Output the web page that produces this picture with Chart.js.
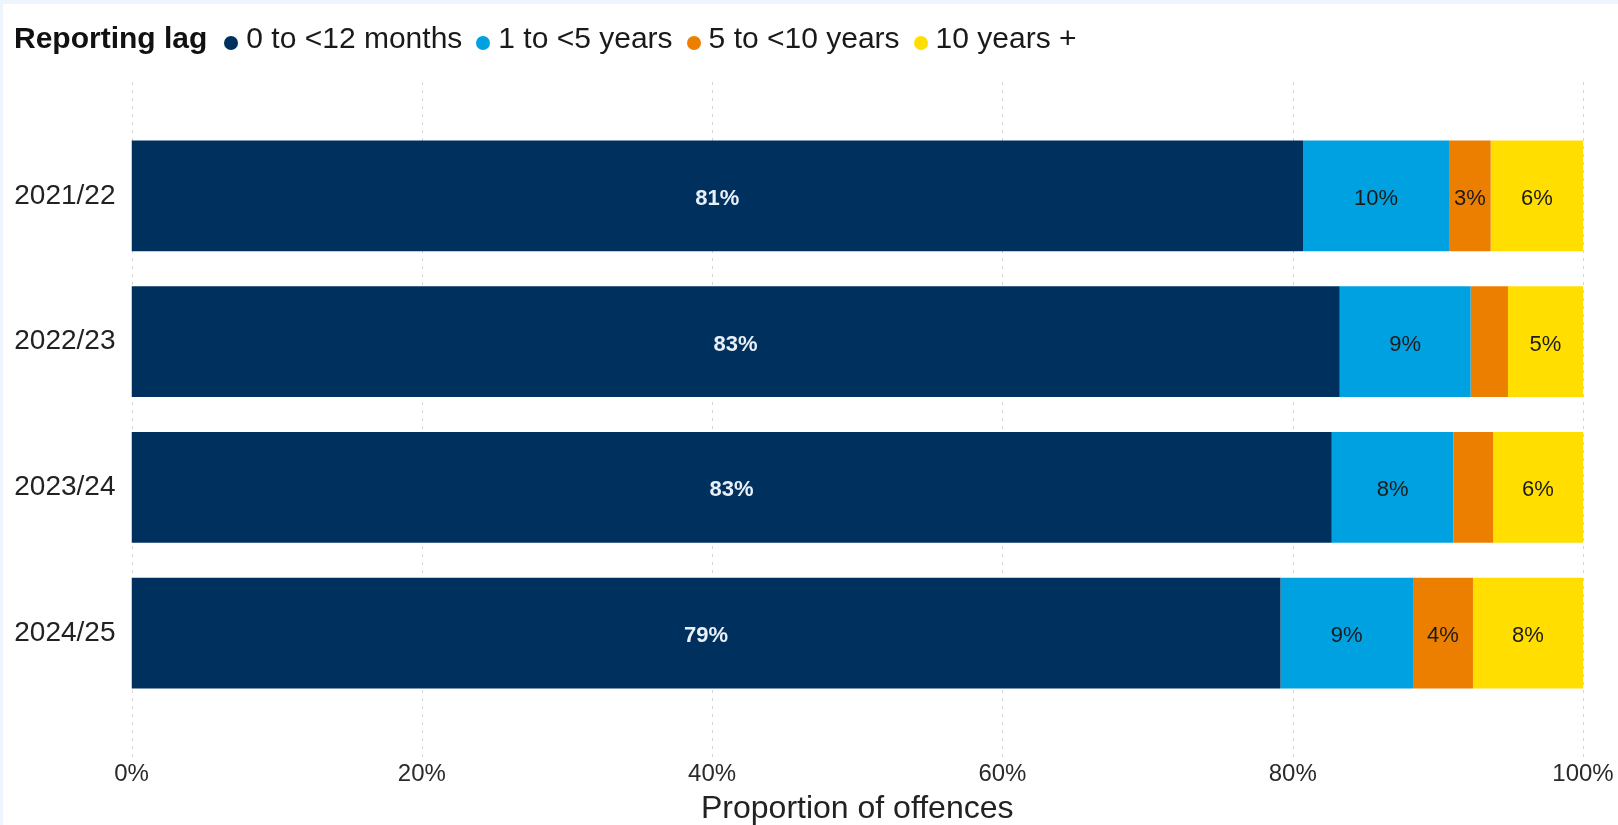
<!DOCTYPE html>
<html>
<head>
<meta charset="utf-8">
<script src="https://cdn.jsdelivr.net/npm/chart.js@4/dist/chart.umd.min.js"></script>
<style>
  html, body { margin: 0; padding: 0; background: #fff; }
  #wrap { position: relative; width: 1618px; height: 825px; overflow: hidden; }
  #frameTop { position: absolute; left: 0; top: 0; width: 1618px; height: 4px; background: #eef5fd; }
  #frameLeft { position: absolute; left: 0; top: 0; width: 3px; height: 825px; background: #eef5fd; }
  #legend {
    position: absolute; left: 14px; top: 21px; white-space: nowrap;
    font-family: "Liberation Sans", Arial, sans-serif; font-size: 30px; color: #1a1a1a;
  }
  #legend .title { font-weight: bold; color: #111; margin-right: 3px; }
  #legend .dot {
    display: inline-block; width: 14px; height: 14px; border-radius: 50%;
    position: relative; top: 2px; margin-left: 14px; margin-right: 8px;
  }
  canvas { position: absolute; left: 0; top: 0; }
</style>
</head>
<body>
<div id="wrap">
  <canvas id="myChart" width="1618" height="825"></canvas>
  <div id="legend"></div>
  <div id="frameTop"></div>
  <div id="frameLeft"></div>
</div>
<script>
const years = ['2021/22', '2022/23', '2023/24', '2024/25'];
const lagLabels = ['0 to <12 months', '1 to <5 years', '5 to <10 years', '10 years +'];
const lagColors = ['#00305e', '#00a1e0', '#ed7f00', '#ffde00'];

// percent of offences per reporting lag
const under12Months = [80.71, 83.24, 82.69, 79.16];
const oneToFiveYears = [10.06, 9.02, 8.38, 9.13];
const fiveToTenYears = [2.87, 2.57, 2.73, 4.13];
const tenYearsPlus = [6.36, 5.17, 6.20, 7.58];

const xTicks = [0, 20, 40, 60, 80, 100];

const seriesValues = [under12Months, oneToFiveYears, fiveToTenYears, tenYearsPlus];

function buildLegend() {
  const legend = document.getElementById('legend');
  const title = document.createElement('span');
  title.className = 'title';
  title.textContent = 'Reporting lag';
  legend.appendChild(title);

  lagLabels.forEach((label, i) => {
    const dot = document.createElement('span');
    dot.className = 'dot';
    dot.style.background = lagColors[i];
    legend.appendChild(dot);
    const text = document.createElement('span');
    text.textContent = label;
    legend.appendChild(text);
  });
}

// dotted vertical gridlines that run past the plot area, behind the bars
const dottedGrid = {
  id: 'dottedGrid',
  beforeDatasetsDraw(chart) {
    const ctx = chart.ctx;
    const xScale = chart.scales.x;
    ctx.save();
    ctx.strokeStyle = '#d4d4d4';
    ctx.lineWidth = 1;
    ctx.setLineDash([3, 5]);
    xTicks.forEach(v => {
      const px = Math.round(xScale.getPixelForValue(v)) + 0.5;
      ctx.beginPath();
      ctx.moveTo(px, 82);
      ctx.lineTo(px, 757);
      ctx.stroke();
    });
    ctx.restore();
  }
};

// percentage labels in the middle of each segment, skipped when the segment is too narrow
const segmentLabels = {
  id: 'segmentLabels',
  afterDatasetsDraw(chart) {
    const ctx = chart.ctx;
    ctx.save();
    ctx.textAlign = 'center';
    ctx.textBaseline = 'middle';
    chart.data.datasets.forEach((ds, di) => {
      const meta = chart.getDatasetMeta(di);
      ctx.font = (di === 0 ? 'bold ' : '') + '22px "Liberation Sans", Arial, sans-serif';
      ctx.fillStyle = di === 0 ? '#e9eff6' : '#1b1b1b';
      meta.data.forEach((bar, i) => {
        const text = Math.round(ds.data[i]) + '%';
        const w = Math.abs(bar.x - bar.base);
        if (w < ctx.measureText(text).width + 9) return;
        const c = bar.getCenterPoint();
        ctx.fillText(text, c.x, c.y + 3);
      });
    });
    ctx.restore();
  }
};

function createChart() {
  const ctx = document.getElementById('myChart').getContext('2d');
  new Chart(ctx, {
    type: 'bar',
    data: {
      labels: years,
      datasets: lagLabels.map((label, i) => ({
        label: label,
        data: seriesValues[i],
        backgroundColor: lagColors[i],
        borderWidth: 0,
        barPercentage: 0.76,
        categoryPercentage: 1
      }))
    },
    options: {
      indexAxis: 'y',
      responsive: false,
      animation: false,
      layout: { padding: { top: 123, left: 13, right: 35, bottom: 0 } },
      plugins: {
        legend: { display: false },
        tooltip: { enabled: false }
      },
      scales: {
        x: {
          stacked: true,
          min: 0,
          max: 100,
          grid: { display: false, drawTicks: false },
          border: { display: false },
          afterBuildTicks(axis) {
            axis.ticks = xTicks.map(v => ({ value: v }));
          },
          afterFit(axis) {
            axis.height = 119;
            axis.paddingLeft = 0;
            axis.paddingRight = 0;
          },
          ticks: {
            padding: 54,
            color: '#2a2a2a',
            font: { family: '"Liberation Sans", Arial, sans-serif', size: 24 },
            callback: v => v + '%'
          },
          title: {
            display: true,
            text: 'Proportion of offences',
            color: '#222',
            padding: { top: 0, bottom: -3 },
            font: { family: '"Liberation Sans", Arial, sans-serif', size: 32, lineHeight: 1.2 }
          }
        },
        y: {
          stacked: true,
          grid: { display: false, drawTicks: false },
          border: { display: false },
          afterFit(axis) {
            axis.width = 118.5;
          },
          ticks: {
            padding: 16,
            color: '#222',
            font: { family: '"Liberation Sans", Arial, sans-serif', size: 28 }
          }
        }
      }
    },
    plugins: [dottedGrid, segmentLabels]
  });
}

buildLegend();
createChart();
</script>
</body>
</html>
